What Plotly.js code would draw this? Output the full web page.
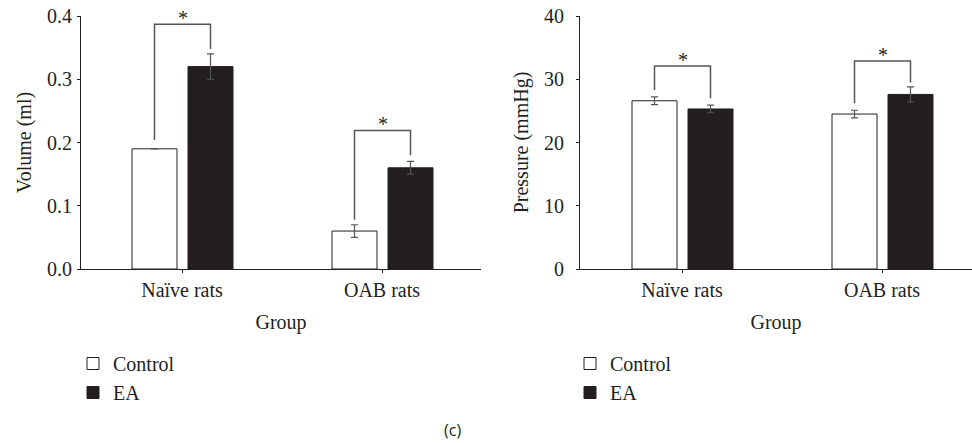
<!DOCTYPE html>
<html>
<head>
<meta charset="utf-8">
<script src="https://cdn.plot.ly/plotly-3.0.1.min.js"></script>
<style>html,body{margin:0;padding:0;background:#fff;}#chart{width:972px;height:443px;}</style>
</head>
<body>
<div id="chart"></div>
<script>
// ---- data ----
const groups = ["Naïve rats", "OAB rats"];
const seriesNames = ["Control", "EA"];

const volumeControl = [0.19, 0.06];
const volumeControlErr = [0, 0.01];
const volumeEA = [0.32, 0.16];
const volumeEAErr = [0.02, 0.01];

const pressureControl = [26.6, 24.5];
const pressureControlErr = [0.6, 0.6];
const pressureEA = [25.3, 27.6];
const pressureEAErr = [0.6, 1.2];

// significance brackets: [top, left leg end, right leg end]
const volumeBracketTop = [0.387, 0.219];
const volumeBracketLeft = [0.204, 0.078];
const volumeBracketRight = [0.348, 0.18];
const pressureBracketTop = [32.1, 32.9];
const pressureBracketLeft = [28.3, 26.2];
const pressureBracketRight = [27.0, 29.5];
const sigLabel = "*";

// ---- styling ----
const ink = "#231f20";
const gray = "#555555";
const serif = "Liberation Serif, Times New Roman, serif";
const barW = 0.225;
const offC = -0.25, offE = 0.03;
const idx = groups.map((g, i) => i);

function bars(y, err, name, fill, xa, ya, leg, off) {
  return {
    type: "bar", x: idx, y: y, name: name, xaxis: xa, yaxis: ya, legend: leg,
    width: barW, offset: off,
    marker: {color: fill, line: {color: ink, width: 1}},
    error_y: {type: "data", array: err, visible: true, color: gray, thickness: 1.2, width: 3.5},
    hoverinfo: "skip"
  };
}

function brackets(top, l, r, xa, ya) {
  const xs = [], ys = [];
  idx.forEach(i => {
    const xl = i + offC + barW / 2, xr = i + offE + barW / 2;
    xs.push(xl, xl, xr, xr, null);
    ys.push(l[i], top[i], top[i], r[i], null);
  });
  return {type: "scatter", mode: "lines", x: xs, y: ys, xaxis: xa, yaxis: ya,
    line: {color: gray, width: 1.5}, showlegend: false, hoverinfo: "skip"};
}

const traces = [
  bars(volumeControl, volumeControlErr, seriesNames[0], "#ffffff", "x", "y", "legend", offC),
  bars(volumeEA, volumeEAErr, seriesNames[1], ink, "x", "y", "legend", offE),
  brackets(volumeBracketTop, volumeBracketLeft, volumeBracketRight, "x", "y"),
  bars(pressureControl, pressureControlErr, seriesNames[0], "#ffffff", "x2", "y2", "legend2", offC),
  bars(pressureEA, pressureEAErr, seriesNames[1], ink, "x2", "y2", "legend2", offE),
  brackets(pressureBracketTop, pressureBracketLeft, pressureBracketRight, "x2", "y2")
];

const annotations = [];
function stars(top, xr, yr) {
  idx.forEach(i => {
    annotations.push({xref: xr, yref: yr, x: i + (offC + offE) / 2 + barW / 2, y: top[i],
      text: sigLabel, showarrow: false, yanchor: "bottom", yshift: -7,
      font: {family: serif, size: 20, color: ink}});
  });
}
stars(volumeBracketTop, "x", "y");
stars(pressureBracketTop, "x2", "y2");
annotations.push({xref: "paper", yref: "paper", x: 452 / 972, y: 1 - 430 / 443,
  text: "(c)", showarrow: false, xanchor: "center", yanchor: "middle",
  font: {family: "Open Sans, DejaVu Sans, sans-serif", size: 16, color: ink}});

const xCommon = {
  type: "linear", tickmode: "array", tickvals: idx, ticktext: groups,
  showgrid: false, zeroline: false, showline: true, linecolor: ink, linewidth: 1,
  ticks: "outside", ticklen: 3, tickcolor: ink, automargin: false,
  tickfont: {family: serif, size: 20, color: ink}, fixedrange: true
};
const yCommon = {
  showgrid: false, zeroline: false, showline: true, linecolor: ink, linewidth: 1,
  ticks: "outside", ticklen: 3, tickcolor: ink, automargin: false,
  tickfont: {family: serif, size: 20, color: ink}, fixedrange: true,
  domain: [174 / 443, 427 / 443]
};

const layout = {
  width: 972, height: 443,
  margin: {l: 0, r: 0, t: 0, b: 0},
  paper_bgcolor: "#fff", plot_bgcolor: "#fff",
  barmode: "overlay",
  xaxis: Object.assign({}, xCommon, {domain: [81 / 972, 481 / 972], range: [-0.505, 1.495],
    anchor: "y", title: {text: "Group", font: {family: serif, size: 20, color: ink}, standoff: 14}}),
  xaxis2: Object.assign({}, xCommon, {domain: [580 / 972, 1], range: [-0.51, 1.45],
    anchor: "y2", title: {text: "Group", font: {family: serif, size: 20, color: ink}, standoff: 14}}),
  yaxis: Object.assign({}, yCommon, {anchor: "x", range: [0, 0.4], dtick: 0.1, tickformat: ".1f",
    ticklabelstandoff: 1,
    title: {text: "Volume (ml)", font: {family: serif, size: 20, color: ink}, standoff: 10}}),
  yaxis2: Object.assign({}, yCommon, {anchor: "x2", range: [0, 40], dtick: 10,
    ticklabelstandoff: 8,
    title: {text: "Pressure (mmHg)", font: {family: serif, size: 20, color: ink}, standoff: 10}}),
  legend: {x: 73 / 972, y: 1 - 344 / 443, xanchor: "left", yanchor: "top", bgcolor: "rgba(0,0,0,0)",
    font: {family: serif, size: 20, color: ink}, tracegroupgap: 0, traceorder: "normal"},
  legend2: {x: 570 / 972, y: 1 - 344 / 443, xanchor: "left", yanchor: "top", bgcolor: "rgba(0,0,0,0)",
    font: {family: serif, size: 20, color: ink}, tracegroupgap: 0, traceorder: "normal"},
  annotations: annotations,
  showlegend: true
};

Plotly.newPlot("chart", traces, layout, {displayModeBar: false, staticPlot: true});
</script>
</body>
</html>
